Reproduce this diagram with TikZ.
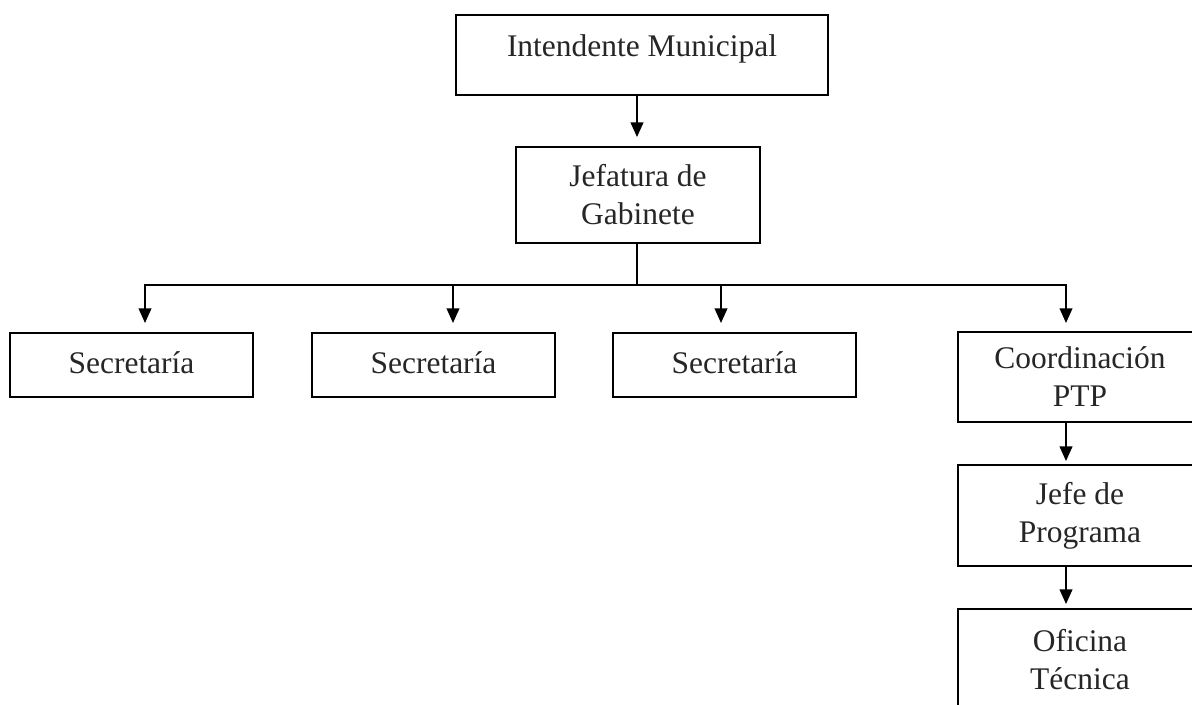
\documentclass[tikz,border=0pt]{standalone}
\usepackage{fontspec}
\setmainfont{Liberation Serif}
\usetikzlibrary{arrows.meta}
\begin{document}
\begin{tikzpicture}[x=0.75pt,y=-0.75pt,
  orgbox/.style={draw=black, line width=1.4pt, inner sep=0pt, align=center,
    font=\fontsize{23.6}{28.5}\selectfont, text=black!85},
  arr/.style={line width=1.4pt, -{Triangle[length=11pt,width=9.5pt]}},
  conn/.style={line width=1.4pt}]
\useasboundingbox (0,0) rectangle (1192,704);
\clip (0,0) rectangle (1192,704);
\fill[white] (0,0) rectangle (1192,704);

\node[orgbox, minimum width=279pt, minimum height=60pt, text height=16pt, text depth=14.5pt] (int) at (642,55) {Intendente Municipal};
\node[orgbox, minimum width=183pt, minimum height=72pt] (jef) at (638,195) {Jefatura de\\Gabinete};

\node[orgbox, minimum width=182.25pt, minimum height=48pt, text height=16pt, text depth=4pt] (sec1) at (131.5,365) {Secretaría};
\node[orgbox, minimum width=182.25pt, minimum height=48pt, text height=16pt, text depth=4pt] (sec2) at (433.5,365) {Secretaría};
\node[orgbox, minimum width=182.25pt, minimum height=48pt, text height=16pt, text depth=4pt] (sec3) at (734.5,365) {Secretaría};

\node[orgbox, minimum width=183pt, minimum height=67.5pt] (coord) at (1080,377) {Coordinación\\PTP};
\node[orgbox, minimum width=183pt, minimum height=75.75pt] (jefe) at (1080,515.5) {Jefe de\\Programa};
\node[orgbox, minimum width=183pt, minimum height=75.75pt] (ofi) at (1080,659.5) {Oficina\\Técnica};

\coordinate (bus) at (637,285);
\coordinate (t1) at (145,323);
\coordinate (t2) at (453,323);
\coordinate (t3) at (721,323);
\coordinate (t4) at (1066,323);

\draw[arr] (int.south -| bus) -- ([yshift=6.75pt]jef.north -| bus);
\draw[conn] (jef.south -| bus) -- (bus);
\draw[arr] (bus) -| (t1);
\draw[arr] (bus) -| (t2);
\draw[arr] (bus) -| (t3);
\draw[arr] (bus) -| (t4);
\draw[arr] (coord.south -| t4) -- ([yshift=2.25pt]jefe.north -| t4);
\draw[arr] (jefe.south -| t4) -- ([yshift=3pt]ofi.north -| t4);
\end{tikzpicture}
\end{document}
